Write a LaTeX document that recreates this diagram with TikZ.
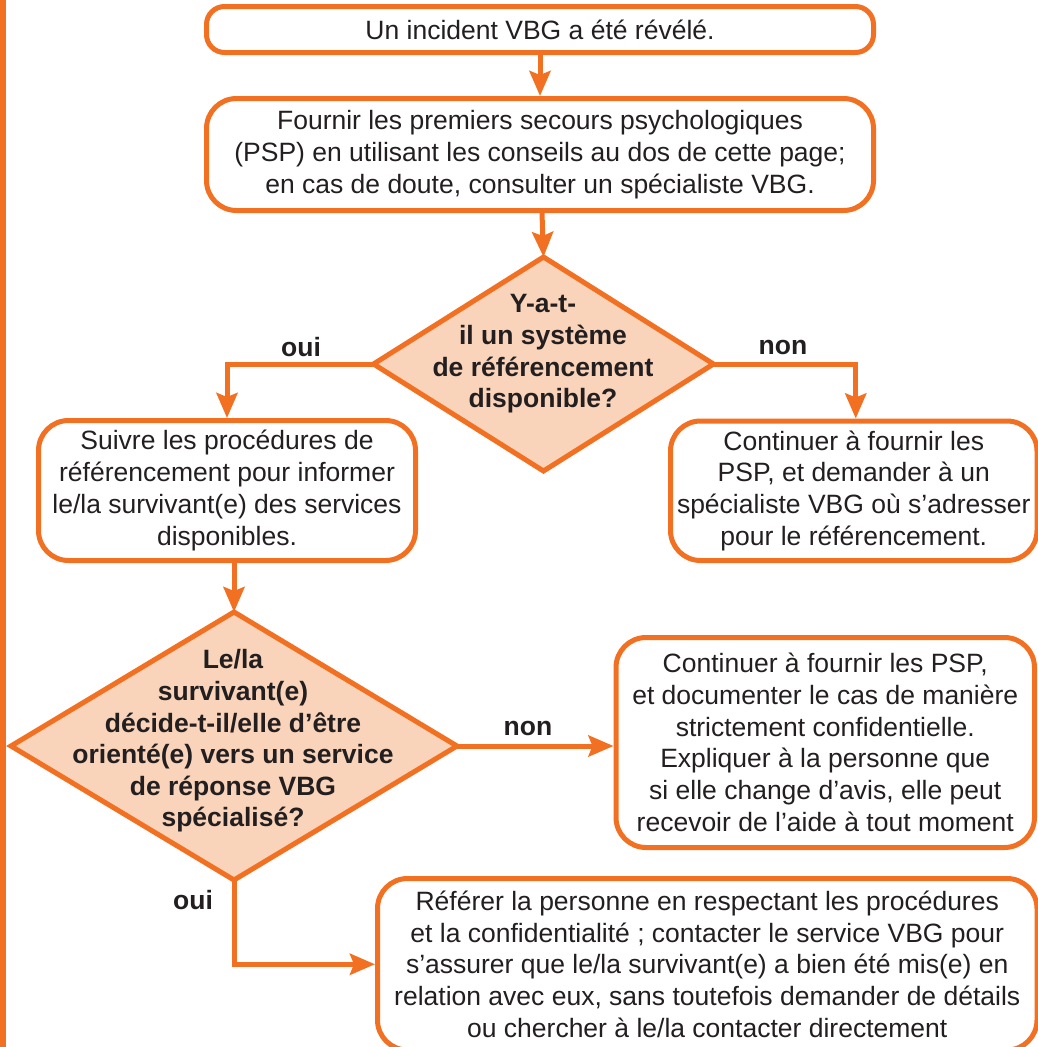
\documentclass[tikz,border=0pt]{standalone}
\usepackage{fontspec}
\setmainfont{Liberation Sans}
\usetikzlibrary{shapes.geometric,arrows.meta}
\definecolor{vbgorange}{RGB}{242,112,34}
\definecolor{vbgpeach}{RGB}{249,212,186}
\definecolor{vbgtext}{RGB}{35,31,32}
\tikzset{
  box/.style={draw=vbgorange, line width=5pt, rounded corners=30pt, fill=white,
    inner sep=0pt, text=vbgtext, align=center,
    font=\fontsize{26.5}{31.7}\selectfont},
  dia/.style={diamond, draw=vbgorange, fill=vbgpeach, line width=5pt,
    inner sep=0pt, outer sep=0pt},
  dtext/.style={text=vbgtext, align=center, inner sep=0pt,
    font=\fontsize{26.5}{31.6}\selectfont\bfseries},
  lab/.style={text=vbgtext, inner sep=0pt, font=\fontsize{26.5}{31.6}\selectfont\bfseries},
  conn/.style={draw=vbgorange, line width=5pt,
    -{Stealth[length=25pt,width=21pt,inset=4pt]}},
}
\begin{document}
\begin{tikzpicture}[x=1pt,y=-1pt]
\useasboundingbox (0,0) rectangle (1037,1047);
\fill[vbgorange] (0,0) rectangle (6,1047);

% boxes
\node[box, rounded corners=18pt, minimum width=667pt, minimum height=46pt] (b1) at (540,29.5)
  {Un incident VBG a été révélé.};
\node[box, minimum width=667pt, minimum height=112pt] (b2) at (540,154.5)
  {Fournir les premiers secours psychologiques\\(PSP) en utilisant les conseils au dos de cette page;\\en cas de doute, consulter un spécialiste VBG.};
\node[dia, minimum width=340pt, minimum height=214pt] (d1) at (543.5,364) {};
\node[dtext] (d1t) at (543,354) {Y-a-t-\\il un système\\de référencement\\disponible?};
\node[box, minimum width=377pt, minimum height=140pt] (b3) at (227,490.5)
  {Suivre les procédures de\\référencement pour informer\\le/la survivant(e) des services\\disponibles.};
\node[box, minimum width=366.5pt, minimum height=139.5pt] (b4) at (853.75,490.75)
  {Continuer à fournir les\\PSP, et demander à un\\spécialiste VBG où s’adresser\\pour le référencement.};
\node[dia, minimum width=446pt, minimum height=268pt] (d2) at (234,746) {};
\node[dtext] (d2t) at (233,741) {Le/la\\survivant(e)\\décide-t-il/elle d’être\\orienté(e) vers un service\\de réponse VBG\\spécialisé?};
\node[box, minimum width=418.5pt, minimum height=210pt] (b5) at (825.25,742.5)
  {Continuer à fournir les PSP,\\et documenter le cas de manière\\strictement confidentielle.\\Expliquer à la personne que\\si elle change d’avis, elle peut\\recevoir de l’aide à tout moment};
\node[box, minimum width=659.5pt, minimum height=171.5pt] (b6) at (707.25,964.25)
  {Référer la personne en respectant les procédures\\et la confidentialité ; contacter le service VBG pour\\s’assurer que le/la survivant(e) a bien été mis(e) en\\relation avec eux, sans toutefois demander de détails\\ou chercher à le/la contacter directement};

% connectors
\draw[conn] (b1) -- (b2);
\draw[conn] (b2) -- (d1.north);
\draw[conn] (d1.west) -| (b3.north);
\draw[conn] (d1.east) -| ([xshift=2pt]b4.north);
\draw[conn] (b3.south -| d2.north) -- (d2.north);
\draw[conn] (d2.east) -- (d2.east -| b5.west);
\draw[conn] (d2.south) |- (b6.west);

% labels
\node[lab] (l1) at (301,347) {oui};
\node[lab] (l2) at (783,347) {non};
\node[lab] (l3) at (528,728) {non};
\node[lab] (l4) at (193,900) {oui};
\end{tikzpicture}
\end{document}
